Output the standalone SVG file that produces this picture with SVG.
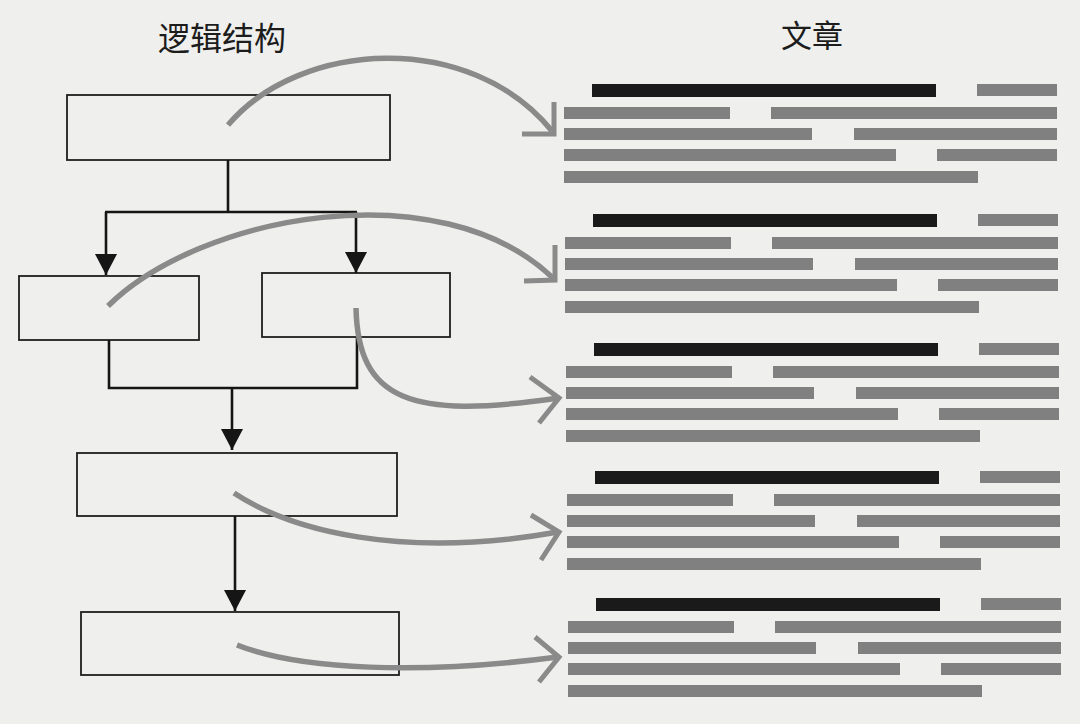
<svg xmlns="http://www.w3.org/2000/svg" width="1080" height="724" viewBox="0 0 1080 724">
<defs>
<style>
.title{font-family:"Noto Sans CJK SC","Noto Sans",sans-serif;fill:#1c1c1c;text-anchor:middle}
.box{fill:none;stroke:#1e1e1e;stroke-width:1.8}
.link{fill:none;stroke:#151515;stroke-width:2.6}
.flow{fill:none;stroke:#8a8a8a;stroke-width:5.5;stroke-linecap:butt}
.chev{fill:none;stroke:#8a8a8a;stroke-width:5;stroke-linejoin:miter;stroke-linecap:butt}
.hd{fill:#1a1a1a}
.ln{fill:#808080}
</style>
<marker id="tri" markerUnits="userSpaceOnUse" markerWidth="24" markerHeight="22" refX="21" refY="11" orient="auto">
<path d="M0,0 L21,11 L0,22 Z" fill="#151515"/>
</marker>
<g id="para">
<rect class="hd" x="592" y="0" width="344" height="13"/>
<rect class="ln" x="977" y="0" width="80" height="12"/>
<rect class="ln" x="564" y="23" width="166" height="12"/>
<rect class="ln" x="771" y="23" width="286" height="12"/>
<rect class="ln" x="564" y="44" width="248" height="12"/>
<rect class="ln" x="854" y="44" width="203" height="12"/>
<rect class="ln" x="564" y="65" width="332" height="12"/>
<rect class="ln" x="937" y="65" width="120" height="12"/>
<rect class="ln" x="564" y="87" width="414" height="12"/>
</g>
</defs>
<rect width="1080" height="724" fill="#efefed"/>
<text class="title" x="222" y="50" font-size="32">逻辑结构</text>
<text class="title" x="812" y="47" font-size="31">文章</text>

<g id="article">
<use href="#para" x="0" y="84"/>
<use href="#para" x="1" y="214"/>
<use href="#para" x="2" y="343"/>
<use href="#para" x="3" y="471"/>
<use href="#para" x="4" y="598"/>
</g>

<g id="node1"><rect class="box" x="67" y="95" width="323" height="65"/></g>
<g id="node2"><rect class="box" x="19" y="276" width="180" height="64"/></g>
<g id="node3"><rect class="box" x="262" y="273" width="188" height="64"/></g>
<g id="node4"><rect class="box" x="77" y="453" width="320" height="63"/></g>
<g id="node5"><rect class="box" x="81" y="612" width="318" height="63"/></g>

<g id="connectors">
<path class="link" d="M228,160 V212 M105,212 H357 M109,340 V388 H357 V337"/>
<path class="link" d="M106,212 V275" marker-end="url(#tri)"/>
<path class="link" d="M356,212 V273" marker-end="url(#tri)"/>
<path class="link" d="M232,388 V450" marker-end="url(#tri)"/>
<path class="link" d="M235,516 V611" marker-end="url(#tri)"/>
</g>

<g id="mapping">
<path class="flow" d="M228,125 C300,40 470,30 552,131"/>
<polyline class="chev" points="554,102 554,134 522,134"/>
<path class="flow" d="M108,306 C200,215 440,170 553,278"/>
<polyline class="chev" points="555,245 555,280 524,281"/>
<path class="flow" d="M356,308 C358,400 410,420 558,398"/>
<polyline class="chev" points="530,377 559,398 539,423"/>
<path class="flow" d="M234,493 C290,530 400,560 558,532"/>
<polyline class="chev" points="531,515 559,532 541,560"/>
<path class="flow" d="M237,645 C300,670 420,675 558,657"/>
<polyline class="chev" points="535,637 559,657 539,682"/>
</g>
</svg>
